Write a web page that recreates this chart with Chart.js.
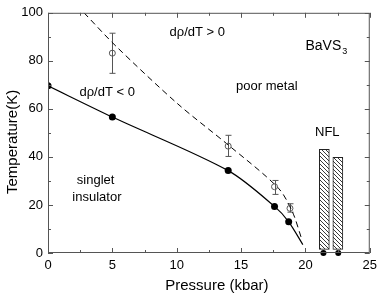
<!DOCTYPE html>
<html>
<head>
<meta charset="utf-8">
<script src="https://cdn.jsdelivr.net/npm/chart.js@4.4.0/dist/chart.umd.min.js"></script>
<style>
  html, body { margin: 0; padding: 0; background: #fff; }
  #wrap { width: 382px; height: 296px; }
</style>
</head>
<body>
<div id="wrap"><canvas id="chart"></canvas></div>
<script>
// filled points (dρ/dT sign change) and the solid line through them
const solidX = [0, 5, 14, 17.6, 18.7];
const solidY = [69.6, 56.6, 34.3, 19.4, 13];
const solidCurveX = [0, 5, 14, 17.6, 18.7, 19.8];
const solidCurveY = [69.6, 56.6, 34.3, 19.4, 13, 3.5];

// open points with error bars, and the dashed line
const openX = [5, 14, 17.6, 18.8];
const openY = [83.2, 44.5, 27.6, 18.6];
const errLow = [74.8, 40.2, 24.4, 17];
const errHigh = [91.5, 49, 30.2, 20.5];
const dashX = [2.8, 5.3, 10.1, 14, 17.9, 19, 19.7];
const dashY = [100, 86, 62, 45, 27, 17, 6];

// NFL region (hatched bars) and the dots at T = 0
const nflX = [21.47, 22.52];
const nflTop = [43.2, 39.8];
const nflBase = 1.5;
const zeroX = [21.4, 22.55];
const zeroY = [0, 0];

const xTicks = [0, 5, 10, 15, 20, 25];
const yTicks = [0, 20, 40, 60, 80, 100];

const FONT = '"Liberation Sans", Arial, sans-serif';

function pts(xs, ys) {
  return xs.map((x, i) => ({ x: x, y: ys[i] }));
}

function hatchPattern() {
  const c = document.createElement('canvas');
  c.width = 4; c.height = 4;
  const g = c.getContext('2d');
  g.fillStyle = '#fff';
  g.fillRect(0, 0, 4, 4);
  g.strokeStyle = '#222';
  g.lineWidth = 0.9;
  g.beginPath();
  g.moveTo(-1, -1); g.lineTo(5, 5);
  g.moveTo(-1, 3); g.lineTo(1, 5);
  g.moveTo(3, -1); g.lineTo(5, 1);
  g.stroke();
  return g.createPattern(c, 'repeat');
}

const labels = [
  { text: 'd\u03c1/dT > 0', x: 11.6, y: 92 },
  { text: 'd\u03c1/dT < 0', x: 4.6, y: 67 },
  { text: 'poor metal', x: 17, y: 69.4 },
  { text: 'NFL', x: 21.7, y: 50.4 },
  { text: 'singlet', x: 3.7, y: 30.2 },
  { text: 'insulator', x: 3.8, y: 23 }
];

const decor = {
  id: 'decor',
  beforeDatasetsDraw(chart) {
    const { ctx, scales: { x, y } } = chart;
    ctx.save();
    ctx.strokeStyle = '#555';
    ctx.lineWidth = 1;
    openX.forEach((v, i) => {
      const px = Math.round(x.getPixelForValue(v)) + 0.5;
      const lo = y.getPixelForValue(errLow[i]);
      const hi = y.getPixelForValue(errHigh[i]);
      ctx.beginPath();
      ctx.moveTo(px, lo); ctx.lineTo(px, hi);
      ctx.moveTo(px - 3, lo); ctx.lineTo(px + 3, lo);
      ctx.moveTo(px - 3, hi); ctx.lineTo(px + 3, hi);
      ctx.stroke();
    });
    ctx.restore();
  },
  afterDraw(chart) {
    const { ctx, chartArea: a, scales: { x, y } } = chart;
    ctx.save();
    ctx.strokeStyle = '#555';
    ctx.lineWidth = 1;
    ctx.strokeRect(a.left + 0.5, a.top + 0.5, a.right - a.left - 1, a.bottom - a.top - 1);

    ctx.beginPath();
    for (let v = 0; v <= 25; v += 2.5) {
      const px = Math.round(x.getPixelForValue(v)) + 0.5;
      const len = v % 5 === 0 ? 5 : 3;
      ctx.moveTo(px, a.bottom); ctx.lineTo(px, a.bottom - len);
      ctx.moveTo(px, a.top); ctx.lineTo(px, a.top + len);
    }
    for (let v = 0; v <= 100; v += 10) {
      const py = Math.round(y.getPixelForValue(v)) + 0.5;
      const len = v % 20 === 0 ? 5 : 3;
      ctx.moveTo(a.left, py); ctx.lineTo(a.left + len, py);
      ctx.moveTo(a.right, py); ctx.lineTo(a.right - len, py);
    }
    ctx.stroke();

    ctx.fillStyle = '#000';
    ctx.font = '13px ' + FONT;
    ctx.textAlign = 'center';
    ctx.textBaseline = 'middle';
    labels.forEach(l => {
      ctx.fillText(l.text, x.getPixelForValue(l.x), y.getPixelForValue(l.y));
    });

    // axis titles
    ctx.font = '15px ' + FONT;
    ctx.fillText('Pressure (kbar)', (a.left + a.right) / 2 + 8, 286);
    ctx.save();
    ctx.translate(13, (a.top + a.bottom) / 2 + 9);
    ctx.rotate(-Math.PI / 2);
    ctx.fillText('Temperature(K)', 0, 0);
    ctx.restore();

    // BaVS3 with subscript
    ctx.textAlign = 'left';
    const bx = x.getPixelForValue(20);
    const by = y.getPixelForValue(86);
    ctx.font = '14px ' + FONT;
    ctx.fillText('BaVS', bx, by);
    const w = ctx.measureText('BaVS').width;
    ctx.font = '9px ' + FONT;
    ctx.fillText('3', bx + w + 1, by + 5);
    ctx.restore();
  }
};

const ctx = document.getElementById('chart').getContext('2d');
new Chart(ctx, {
  type: 'scatter',
  data: {
    datasets: [
      {
        type: 'bar',
        data: nflX.map((v, i) => ({ x: v, y: [nflBase, nflTop[i]] })),
        backgroundColor: hatchPattern(),
        borderColor: '#222',
        borderWidth: 1,
        borderSkipped: false,
        barThickness: 10,
        order: 5
      },
      {
        data: pts(solidCurveX, solidCurveY),
        showLine: true,
        borderColor: '#000',
        borderWidth: 1.2,
        pointRadius: 0,
        tension: 0.3,
        order: 4
      },
      {
        data: pts(dashX, dashY),
        showLine: true,
        borderColor: '#000',
        borderWidth: 1,
        borderDash: [6, 4],
        pointRadius: 0,
        tension: 0.3,
        order: 3
      },
      {
        data: pts(solidX, solidY),
        pointRadius: 3.5,
        backgroundColor: '#000',
        borderColor: '#000',
        borderWidth: 0,
        order: 1
      },
      {
        data: pts(zeroX, zeroY),
        pointRadius: 3,
        backgroundColor: '#000',
        borderColor: '#000',
        borderWidth: 0,
        clip: false,
        order: 1
      },
      {
        data: pts(openX, openY),
        pointRadius: 3,
        backgroundColor: 'rgba(0,0,0,0)',
        borderColor: '#555',
        borderWidth: 1,
        order: 2
      }
    ]
  },
  options: {
    responsive: true,
    maintainAspectRatio: false,
    animation: false,
    layout: { padding: { top: 5, right: 8, left: 0, bottom: 0 } },
    plugins: { legend: { display: false }, tooltip: { enabled: false } },
    scales: {
      x: {
        type: 'linear',
        min: 0, max: 25,
        offset: false,
        afterBuildTicks: s => { s.ticks = xTicks.map(v => ({ value: v })); },
        afterFit: s => { s.height = 43; },
        grid: { display: false, drawTicks: false },
        border: { display: false },
        ticks: { color: '#000', font: { size: 13, family: FONT }, padding: 5, maxRotation: 0 }
      },
      y: {
        min: 0, max: 100,
        afterBuildTicks: s => { s.ticks = yTicks.map(v => ({ value: v })); },
        afterFit: s => { s.width = 48; },
        grid: { display: false, drawTicks: false },
        border: { display: false },
        ticks: { color: '#000', font: { size: 13, family: FONT }, padding: 5 }
      }
    }
  },
  plugins: [decor]
});
</script>
</body>
</html>
